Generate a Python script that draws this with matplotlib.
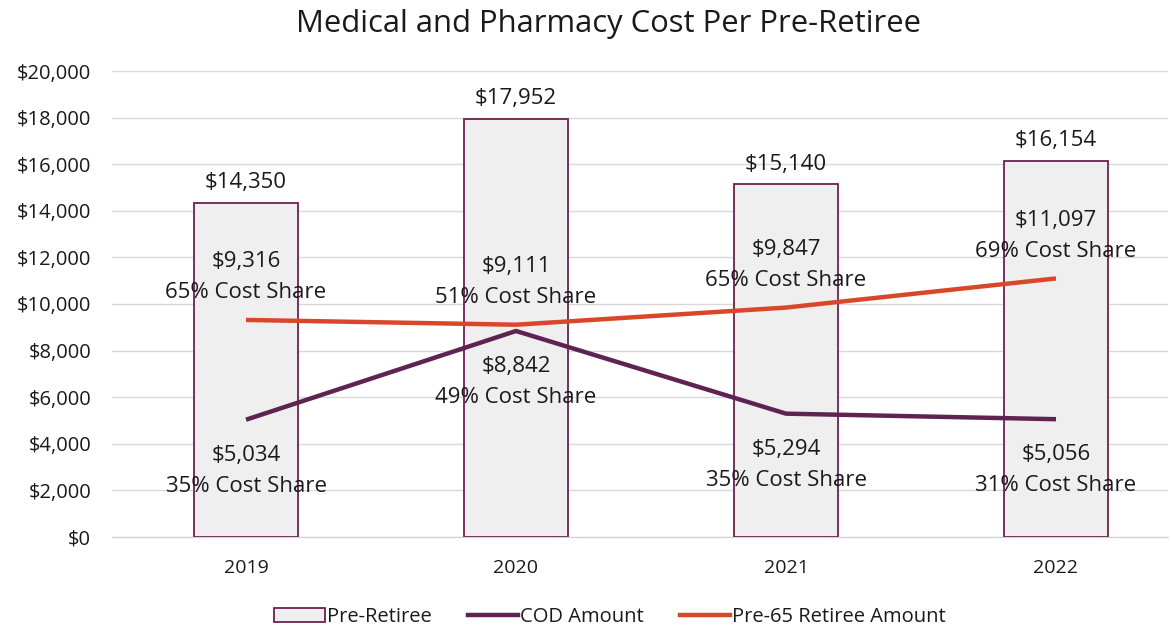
import matplotlib
matplotlib.use("Agg")
import matplotlib.pyplot as plt
from matplotlib.patches import Patch
from matplotlib.lines import Line2D

years = ["2019", "2020", "2021", "2022"]
pre_retiree = [14350, 17952, 15140, 16154]
cod_amount = [5034, 8842, 5294, 5056]
pre65_amount = [9316, 9111, 9847, 11097]
cod_share = ["35%", "49%", "35%", "31%"]
pre65_share = ["65%", "51%", "65%", "69%"]

plt.rcParams['font.family'] = ['Open Sans', 'DejaVu Sans']

BAR_FILL = "#EFEFEF"
BAR_EDGE = "#6B2150"
COD_COLOR = "#5E2350"
PRE65_COLOR = "#D9472B"
TXT = "#1a1a1a"
LBL = 16

fig = plt.figure(figsize=(11.71, 6.27), dpi=100)
ax = fig.add_axes([112/1171, 1-537/627, (1168-112)/1171, (537-71)/627])

x = list(range(len(years)))
ax.bar(x, pre_retiree, width=0.385, color=BAR_FILL, edgecolor=BAR_EDGE, linewidth=1.3, zorder=2)
ax.plot(x, cod_amount, color=COD_COLOR, linewidth=3.2, zorder=3, solid_capstyle='butt')
ax.plot(x, pre65_amount, color=PRE65_COLOR, linewidth=3.2, zorder=3, solid_capstyle='butt')

for i in x:
    ax.annotate(f"${pre_retiree[i]:,}", (i, pre_retiree[i]), xytext=(0, 7), textcoords='offset points',
                ha='center', va='bottom', fontsize=LBL, color=TXT, zorder=5)
    ax.annotate(f"${pre65_amount[i]:,}\n{pre65_share[i]} Cost Share", (i, pre65_amount[i]), xytext=(0, 12),
                textcoords='offset points', ha='center', va='bottom', fontsize=LBL, color=TXT,
                linespacing=1.62, zorder=5)
    ax.annotate(f"${cod_amount[i]:,}\n{cod_share[i]} Cost Share", (i, cod_amount[i]), xytext=(0, -18),
                textcoords='offset points', ha='center', va='top', fontsize=LBL, color=TXT,
                linespacing=1.62, zorder=5)

ax.set_ylim(0, 20000)
ax.set_xlim(-134/270, 922/270)
ax.set_yticks(range(0, 20001, 2000))
ax.set_yticklabels([f"${v:,}" for v in range(0, 20001, 2000)])
ax.set_xticks(x)
ax.set_xticklabels(years)
ax.tick_params(axis='y', length=0, labelsize=14.5, colors=TXT, pad=15)
ax.tick_params(axis='x', length=0, labelsize=14, colors=TXT, pad=16)
ax.grid(axis='y', color="#D9D9D9", linewidth=1.0, zorder=0)
ax.set_axisbelow(True)
for s in ["top", "right", "left"]:
    ax.spines[s].set_visible(False)
ax.spines["bottom"].set_color("#D0D0D0")

fig.suptitle("Medical and Pharmacy Cost Per Pre-Retiree", x=0.52, y=0.985, fontsize=22.3, color=TXT)

handles = [Patch(facecolor=BAR_FILL, edgecolor=BAR_EDGE, linewidth=1.3),
           Line2D([0], [0], color=COD_COLOR, linewidth=3.2),
           Line2D([0], [0], color=PRE65_COLOR, linewidth=3.2)]
fig.legend(handles, ["Pre-Retiree", "COD Amount", "Pre-65 Retiree Amount"], loc='center',
           bbox_to_anchor=(0.521, 1-617/627), ncol=3, frameon=False, fontsize=14.5,
           handlelength=2.5, handletextpad=0.1, columnspacing=1.8, labelcolor=TXT)

fig.savefig("out.png", dpi=100)
